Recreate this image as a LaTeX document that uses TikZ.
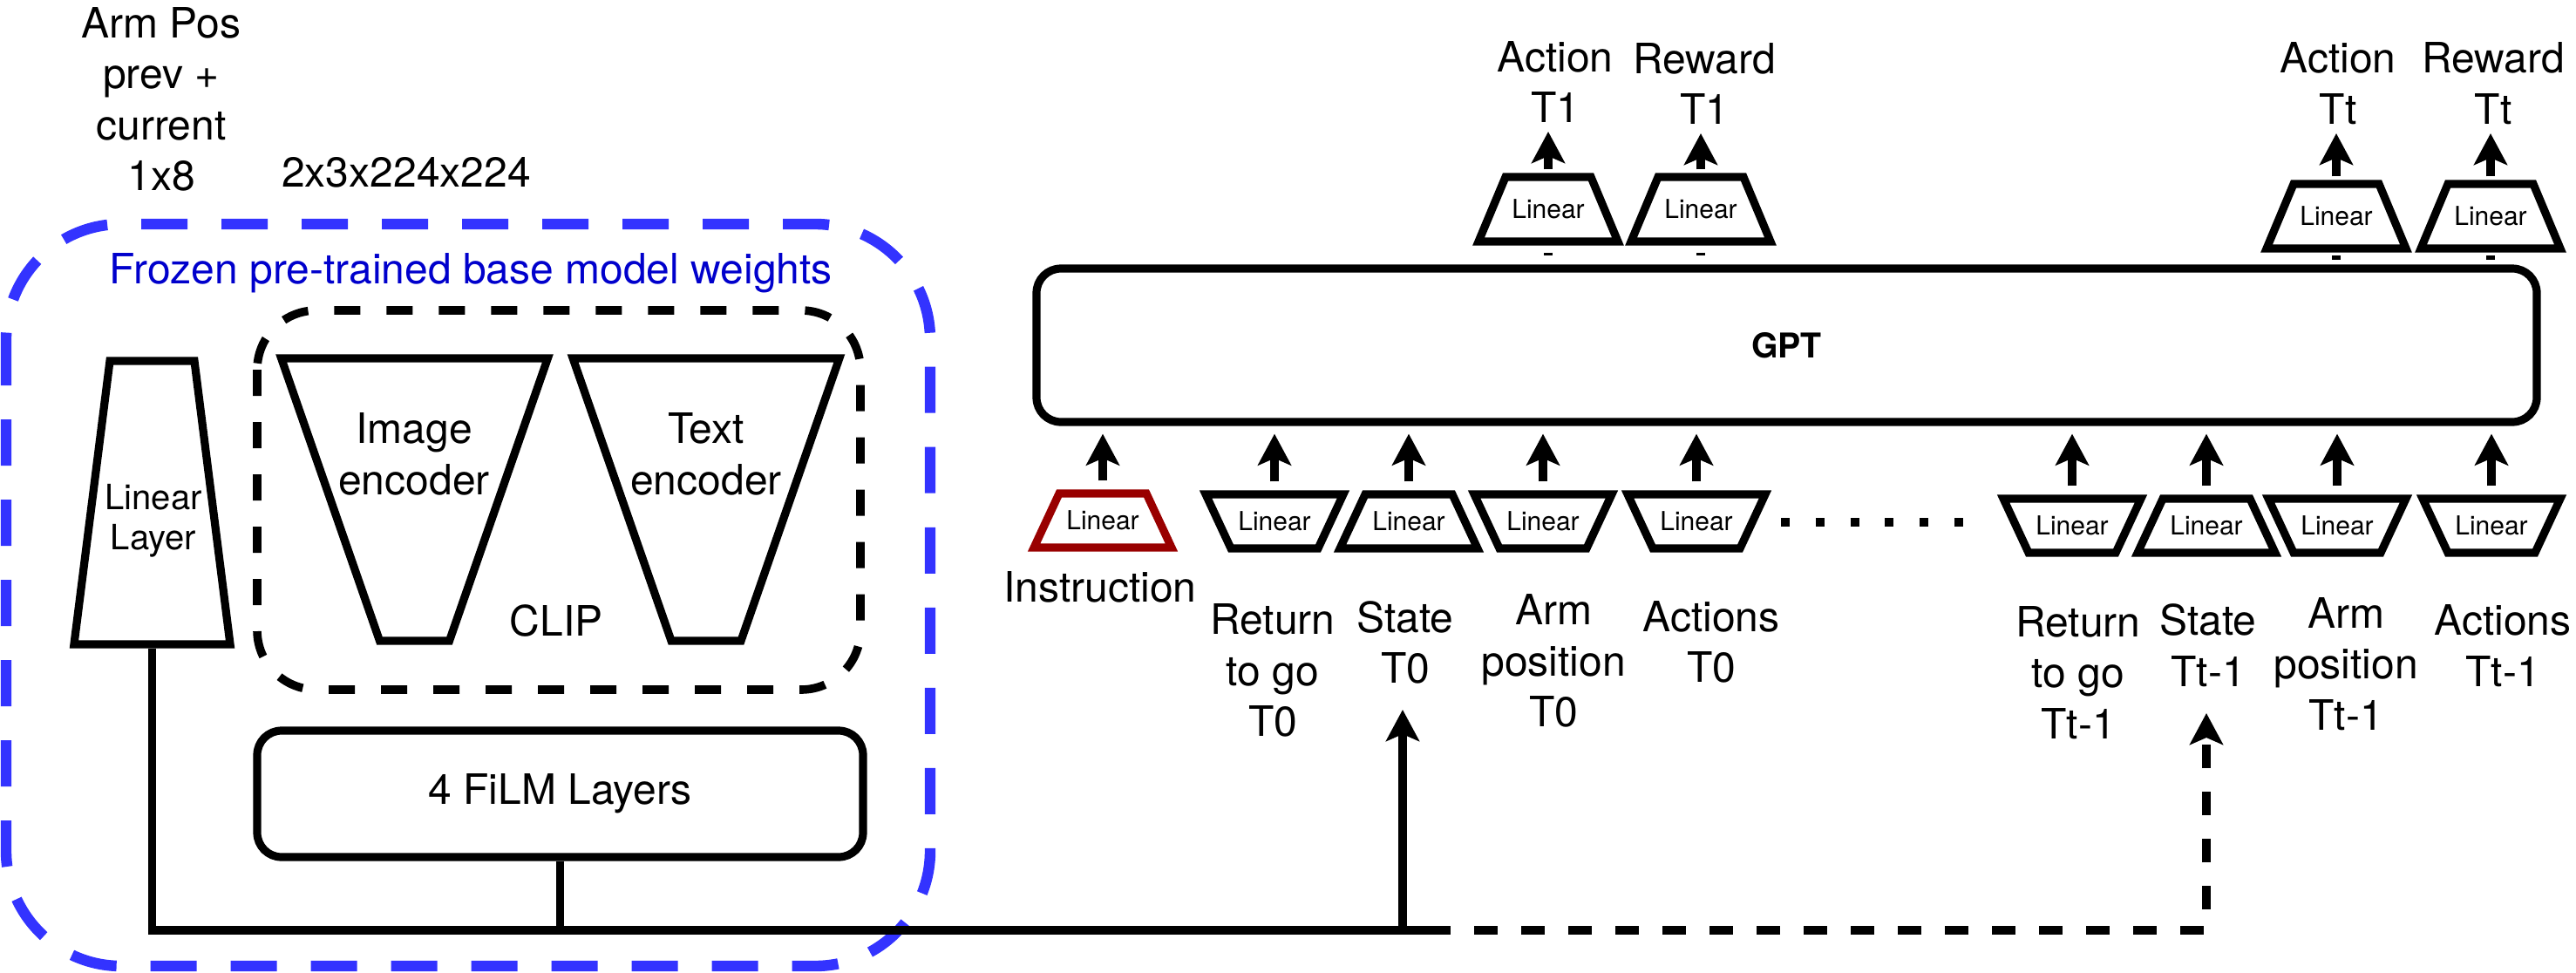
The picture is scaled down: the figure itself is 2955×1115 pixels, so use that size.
\documentclass[tikz,border=0pt]{standalone}
\usepackage{fontspec}
\setmainfont{TeX Gyre Heros}
\usepackage{tikz}
\usetikzlibrary{shapes.geometric,arrows.meta}
\definecolor{frozenblue}{RGB}{51,51,255}
\definecolor{frozentext}{RGB}{0,0,204}
\definecolor{instrred}{RGB}{153,0,0}
\newcommand{\lblfont}{\fontsize{12}{14.6}\selectfont}
\tikzset{every picture/.style={line width=2.3pt}}
\tikzset{
  lbl/.style={font=\lblfont, align=center, inner sep=0pt},
  lin/.style={trapezium, draw, fill=white, text width=21pt, align=center,
    text height=5.4pt, text depth=0pt, inner xsep=2pt, inner ysep=5.05pt,
    trapezium angle=65, font=\fontsize{7.5}{9}\selectfont},
  linup/.style={lin},
  lindown/.style={lin, shape border rotate=180},
  linhead/.style={lin, inner xsep=1.75pt, inner ysep=6.55pt, trapezium angle=67.3},
  enc/.style={trapezium, draw, shape border rotate=180, inner xsep=10pt, inner ysep=40.5pt,
    trapezium angle=70.8},
  block/.style={draw, rounded corners=7pt, inner sep=0pt},
  arr/.style={-{Stealth[length=9pt,width=9.5pt,inset=2pt]}},
  feed/.style={arr, shorten <=2.5pt, shorten >=2.25pt},
  outp/.style={arr, shorten <=1pt, shorten >=1.5pt},
  stub/.style={shorten <=2pt, shorten >=2.5pt},
  busdash/.style={dash pattern=on 6.75pt off 6.75pt},
  dots/.style={dash pattern=on 2.5pt off 7.45pt},
}

\begin{document}
\begin{tikzpicture}[x=0.25pt,y=0.25pt,yscale=-1,xscale=1]
		\useasboundingbox (0,0) rectangle (2955,1115);
		
		%Shape: Rounded Rect (frozen weights)
		\draw [frozenblue, line width=3.1pt, dash pattern=on 13.25pt off 9.75pt, rounded corners=33pt] (7,257) rectangle (1067,1108);
		%Shape: Rounded Rect (CLIP)
		\draw [line width=2.4pt, dash pattern=on 7.5pt off 7.5pt, rounded corners=17pt] (295,356) rectangle (987,791);
		
		%Shape: Trapezoid
		\node [trapezium, draw, inner xsep=12.125pt, inner ysep=40.625pt, trapezium angle=82.8] (linlayer) at (174.5,576.5) {};
		%Shape: Trapezoid
		\node [enc] (imgenc) at (475.5,573) {};
		%Shape: Trapezoid
		\node [enc] (txtenc) at (810,573) {};
		%Shape: Rounded Rect
		\node [block, font=\lblfont, minimum width=173.75pt, minimum height=36.25pt] (film) at (642.5,910.5) {4 FiLM Layers};
		%Shape: Rounded Rect
		\node [block, font=\bfseries\fontsize{9.8}{12}\selectfont, minimum width=430.25pt, minimum height=44pt] (gpt) at (2049.5,396) {GPT};
		
		% Text Node
		\node [lbl, anchor=south] (armpos) at (185,224) {Arm Pos\\prev +\\current\\1x8};
		% Text Node
		\node [lbl, anchor=base] (imgsize) at (466,214) {2x3x224x224};
		% Text Node
		\node [lbl, anchor=base west, text=frozentext] (frozen) at (121,325) {Frozen pre-trained base model weights};
		% Text Node
		\node [lbl] (imgtxt) at (475,521) {Image\\encoder};
		% Text Node
		\node [lbl] (txttxt) at (810,521) {Text\\encoder};
		% Text Node
		\node [lbl, anchor=base] (clip) at (638,729) {CLIP};
		% Text Node
		\node [lbl, font=\fontsize{10}{11.5}\selectfont] (linlbl) at (176,597) {Linear\\Layer};
		
		%Shape: Trapezoid (inputs)
		\node [linup, draw=instrred] (instr) at (1265,597) {Linear};
		\node [lindown] (ret0) at (1462,598) {Linear};
		\node [linup] (st0) at (1616,598) {Linear};
		\node [lindown] (arm0) at (1770,598) {Linear};
		\node [lindown] (act0) at (1946,598) {Linear};
		\node [lindown] (rett) at (2377,603) {Linear};
		\node [linup] (stt) at (2531,603) {Linear};
		\node [lindown] (armt) at (2681,603) {Linear};
		\node [lindown] (actt) at (2858,603) {Linear};
		%Shape: Trapezoid (outputs)
		\node [linhead] (a1) at (1776,240) {Linear};
		\node [linhead] (r1) at (1951,240) {Linear};
		\node [linhead] (at) at (2680,248) {Linear};
		\node [linhead] (rt) at (2857,248) {Linear};
		
		% Text Node
		\node [lbl, anchor=south] (lab-a1) at (1784,145) {Action\\T1};
		\node [lbl, anchor=south] (lab-r1) at (1955,147) {Reward\\T1};
		\node [lbl, anchor=south] (lab-at) at (2682,147) {Action\\Tt};
		\node [lbl, anchor=south] (lab-rt) at (2860,147) {Reward\\Tt};
		% Text Node
		\node [lbl, anchor=base] (lab-instr) at (1262,690) {Instruction};
		\node [lbl, anchor=south] (lab-ret0) at (1460,850) {Return\\to go\\T0};
		\node [lbl, anchor=south] (lab-st0) at (1612,789) {State\\T0};
		\node [lbl, anchor=south] (lab-arm0) at (1782,839) {Arm\\position\\T0};
		\node [lbl, anchor=south] (lab-act0) at (1963,788) {Actions\\T0};
		\node [lbl, anchor=south] (lab-rett) at (2384,852) {Return\\to go\\Tt-1};
		\node [lbl, anchor=south] (lab-stt) at (2533,792) {State\\Tt-1};
		\node [lbl, anchor=south] (lab-armt) at (2691,842) {Arm\\position\\Tt-1};
		\node [lbl, anchor=south] (lab-actt) at (2871,792) {Actions\\Tt-1};
		
		%Up Arrows into GPT
		\foreach \n in {instr,ret0,st0,arm0,act0,rett,stt,armt,actt}
		  \draw [feed] (\n.north) -- (\n.north |- gpt.south);
		%Up Arrows out of GPT
		\foreach \n in {a1,r1,at,rt} {
		  \draw [outp] (\n.north) -- (\n.north |- lab-\n.south);
		  \draw [stub] (\n.south) -- (\n.south |- gpt.north);
		}
		%Dotted Line
		\draw [dots] (2043,599) -- (2253,599);
		
		%Straight Lines
		\coordinate (bus) at (174,1067);
		\coordinate (bus-st0) at (1609,1067);
		\coordinate (bus-end) at (1637,1067);
		\coordinate (bus-stt) at (2531,1067);
		\draw (linlayer.south) -- (linlayer.south |- bus) -- (bus-end);
		\draw (film.south) -- (film.south |- bus);
		\draw [arr, shorten >=6.25pt] (bus-st0) -- (bus-st0 |- lab-st0.south);
		\draw [arr, busdash, shorten >=6.5pt] (bus-end) -- (bus-stt) -- (bus-stt |- lab-stt.south);
		
		\end{tikzpicture}
\end{document}
